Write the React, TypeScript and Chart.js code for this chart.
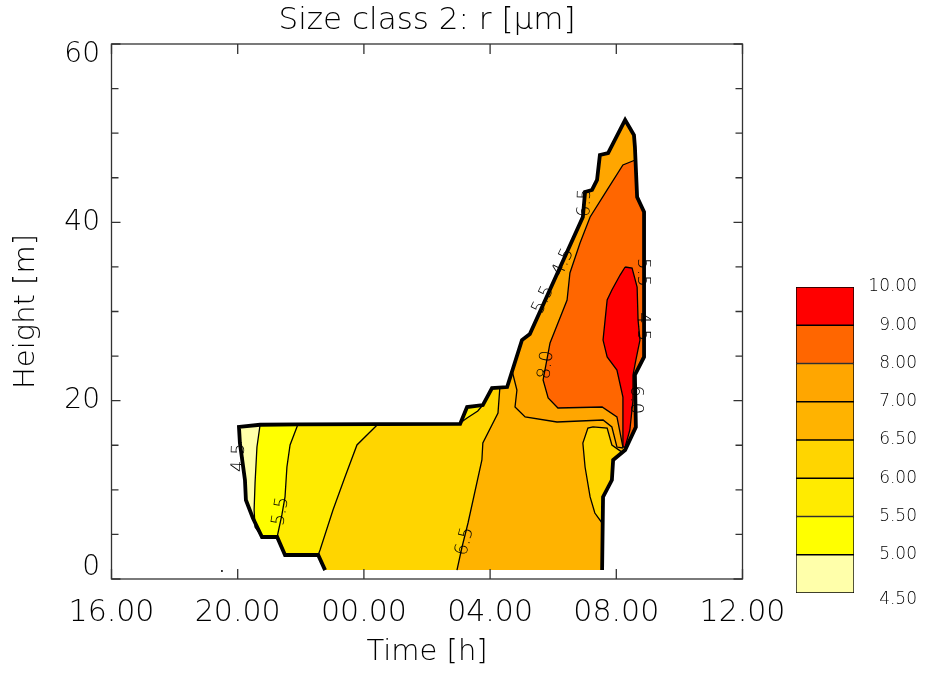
import React, { useEffect, useRef } from 'react';
import { Chart, registerables } from 'chart.js';

Chart.register(...registerables);

const FONT = "'DejaVu Sans', 'Liberation Sans', sans-serif";
const WEIGHT = '200';

const TITLE = 'Size class 2: r [μm]';
const X_TITLE = 'Time [h]';
const Y_TITLE = 'Height [m]';

// x = hours since 00:00 of first day (16 -> 16.00, 36 -> 12.00 next day), y = metres
const X_TICKS = [16, 20, 24, 28, 32, 36];
const X_TICK_LABELS = ['16.00', '20.00', '00.00', '04.00', '08.00', '12.00'];
const Y_TICKS = [0, 20, 40, 60];
const Y_TICK_LABELS = ['0', '20', '40', '60'];
const Y_MINOR_TICKS = [5, 10, 15, 25, 30, 35, 45, 50, 55];

const LEVEL_LABELS = ['4.50', '5.00', '5.50', '6.00', '6.50', '7.00', '8.00', '9.00', '10.00'];
const LEVEL_COLORS = ['#FFFFAA', '#FFFF00', '#FFEB00', '#FFD500', '#FFB300', '#FFA600', '#FF6600', '#FF0000'];

// outer data boundary (thick line), from bottom-left clockwise to bottom-right
const OUTLINE = [
  [22.77, 1.0], [22.55, 2.69], [21.5, 2.69], [21.25, 4.71], [20.77, 4.71], [20.48, 6.84],
  [20.26, 8.86], [20.23, 11.1], [20.07, 15.25], [20.04, 17.05], [20.71, 17.3], [21.91, 17.35],
  [24.45, 17.38], [27.05, 17.4], [27.27, 19.29], [27.77, 19.51], [28.06, 21.42], [28.54, 21.53],
  [29.01, 26.8], [29.26, 27.48], [30.94, 40.6], [31.01, 43.4], [31.23, 43.63], [31.39, 44.75],
  [31.48, 47.55], [31.74, 47.77], [32.28, 51.48], [32.56, 49.79], [32.59, 48.45], [32.66, 42.84],
  [32.88, 41.16], [32.88, 24.9], [32.59, 22.88], [32.62, 17.05], [32.28, 14.47], [31.9, 13.35],
  [31.86, 11.1], [31.58, 9.2], [31.55, 1.0],
];

// contour lines (top to bottom)
const LINE_50 = [[20.71, 17.3], [20.61, 14.8], [20.55, 10.77], [20.52, 7.74], [20.55, 5.83], [20.77, 4.71]];
const LINE_55 = [[21.91, 17.35], [21.66, 15.03], [21.56, 12.56], [21.5, 9.2], [21.4, 7.18], [21.25, 4.71]];
const LINE_60 = [[24.45, 17.38], [23.78, 15.03], [23.4, 11.44], [23.02, 7.74], [22.61, 3.25], [22.55, 2.69]];
const LINE_65 = [[28.31, 21.5], [28.25, 18.6], [27.77, 15.25], [27.74, 13.35], [27.3, 6.28], [27.11, 3.59], [26.95, 1.0]];
const LINE_70 = [[28.7, 23.3], [28.85, 21.2], [28.79, 19.29], [29.11, 18.17], [30.12, 17.61], [31.58, 17.83], [31.86, 17.05], [32.02, 14.8], [32.21, 14.69]];
const LINE_80 = [
  [32.6, 46.99], [32.21, 46.43], [31.71, 43.63], [31.17, 40.6], [30.85, 37.68], [30.53, 34.32],
  [30.44, 31.29], [29.9, 26.47], [29.68, 22.32], [29.84, 20.3], [30.15, 19.18], [31.55, 19.29],
  [32.02, 18.17], [32.21, 14.8],
];
const RED_ZONE = [
  [32.28, 34.99], [32.5, 34.88], [32.66, 32.75], [32.69, 29.05], [32.75, 26.8], [32.62, 24.56],
  [32.53, 22.88], [32.53, 20.07], [32.43, 16.71], [32.28, 14.8], [32.21, 14.8], [32.21, 20.41],
  [32.02, 23.44], [31.71, 24.9], [31.58, 26.8], [31.71, 31.29], [31.86, 32.41], [32.12, 34.09],
];
const RIGHT_60_LINE = [
  [31.55, 6.28], [31.32, 7.4], [31.17, 9.2], [31.01, 12.56], [30.94, 15.25], [31.1, 16.93],
  [31.26, 17.05], [31.71, 16.93], [31.86, 15.03], [32.19, 14.2],
];
const RIGHT_60_EDGE = [[31.9, 13.35], [31.86, 11.1], [31.58, 9.2]];
const NOTCH_55_LINE = [[27.77, 19.51], [27.61, 18.84], [27.27, 18.06], [27.05, 17.5]];
const NOTCH_55_EDGE = [[27.05, 17.4], [27.27, 19.29]];
const STRAY_POINT = [[19.5, 0.9]];

const CONTOUR_LABELS = [
  { text: '4.5', x: 20.04, y: 13.6, angle: -88 },
  { text: '5.5', x: 21.37, y: 7.6, angle: -80 },
  { text: '6.5', x: 27.2, y: 4.2, angle: -75 },
  { text: '8.0', x: 29.78, y: 24.0, angle: -82 },
  { text: '5.5', x: 29.69, y: 31.3, angle: -65 },
  { text: '4.5', x: 30.32, y: 35.5, angle: -65 },
  { text: '6.5', x: 31.01, y: 42.2, angle: -88 },
  { text: '5.5', x: 32.85, y: 34.4, angle: 90 },
  { text: '4.5', x: 32.85, y: 28.3, angle: 90 },
  { text: '6.0', x: 32.62, y: 20.1, angle: 90 },
];

const toPts = (a: number[][]) => a.map(([x, y]) => ({ x, y }));
const seg = (a: number[][], i: number, j: number) => a.slice(i, j + 1);
const rev = (a: number[][]) => [...a].reverse();

const ZONES: { color: string; poly: number[][] }[] = [
  { color: LEVEL_COLORS[4], poly: OUTLINE },
  { color: LEVEL_COLORS[3], poly: [...seg(OUTLINE, 0, 16), ...LINE_65] },
  { color: LEVEL_COLORS[2], poly: [...seg(OUTLINE, 1, 12), ...LINE_60] },
  { color: LEVEL_COLORS[1], poly: [...seg(OUTLINE, 3, 11), ...LINE_55] },
  { color: LEVEL_COLORS[0], poly: [...seg(OUTLINE, 4, 10), ...LINE_50] },
  { color: LEVEL_COLORS[2], poly: [...NOTCH_55_EDGE, ...NOTCH_55_LINE] },
  { color: LEVEL_COLORS[3], poly: [...RIGHT_60_LINE, ...RIGHT_60_EDGE] },
  { color: LEVEL_COLORS[5], poly: [...LINE_70, ...rev(seg(OUTLINE, 18, 34))] },
  { color: LEVEL_COLORS[6], poly: [...LINE_80, ...rev(seg(OUTLINE, 29, 34))] },
  { color: LEVEL_COLORS[7], poly: RED_ZONE },
];

const CONTOURS = [LINE_50, LINE_55, LINE_60, LINE_65, LINE_70, LINE_80, [...RED_ZONE, RED_ZONE[0]], RIGHT_60_LINE, NOTCH_55_LINE];

const decorPlugin = {
  id: 'decor',
  afterDatasetsDraw(chart: any) {
    const { ctx, scales } = chart;
    const xs = scales.x;
    const ys = scales.y;
    ctx.save();
    ctx.fillStyle = '#000';
    ctx.font = `${WEIGHT} 18px ${FONT}`;
    ctx.textAlign = 'center';
    ctx.textBaseline = 'middle';
    for (const l of CONTOUR_LABELS) {
      ctx.save();
      ctx.translate(xs.getPixelForValue(l.x), ys.getPixelForValue(l.y));
      ctx.rotate((l.angle * Math.PI) / 180);
      ctx.fillText(l.text, 0, 0);
      ctx.restore();
    }
    ctx.restore();
  },
  afterDraw(chart: any) {
    const { ctx, chartArea: a, scales } = chart;
    const xs = scales.x;
    const ys = scales.y;
    ctx.save();
    ctx.strokeStyle = '#333';
    ctx.lineWidth = 1.3;
    ctx.strokeRect(a.left, a.top, a.right - a.left, a.bottom - a.top);
    ctx.beginPath();
    for (const v of X_TICKS) {
      const px = xs.getPixelForValue(v);
      ctx.moveTo(px, a.bottom);
      ctx.lineTo(px, a.bottom - 10);
      ctx.moveTo(px, a.top);
      ctx.lineTo(px, a.top + 10);
    }
    for (const v of Y_TICKS) {
      const py = ys.getPixelForValue(v);
      ctx.moveTo(a.left, py);
      ctx.lineTo(a.left + 9, py);
      ctx.moveTo(a.right, py);
      ctx.lineTo(a.right - 9, py);
    }
    for (const v of Y_MINOR_TICKS) {
      const py = ys.getPixelForValue(v);
      ctx.moveTo(a.left, py);
      ctx.lineTo(a.left + 7, py);
      ctx.moveTo(a.right, py);
      ctx.lineTo(a.right - 7, py);
    }
    ctx.stroke();
    ctx.restore();
  },
};

export default function App() {
  const mainRef = useRef<HTMLCanvasElement>(null);
  const barRef = useRef<HTMLCanvasElement>(null);

  useEffect(() => {
    const datasets: any[] = [];
    ZONES.forEach((z) => {
      datasets.push({
        data: toPts(z.poly),
        fill: 'shape',
        backgroundColor: z.color,
        borderColor: 'rgba(0,0,0,0)',
        borderWidth: 1,
        pointRadius: 0,
      });
    });
    CONTOURS.forEach((c) => {
      datasets.push({
        data: toPts(c),
        fill: false,
        borderColor: '#000',
        borderWidth: 1.3,
        pointRadius: 0,
      });
    });
    datasets.push({
      data: toPts(OUTLINE),
      fill: false,
      borderColor: '#000',
      borderWidth: 3.8,
      borderJoinStyle: 'miter',
      pointRadius: 0,
    });
    datasets.push({
      data: toPts(STRAY_POINT),
      showLine: false,
      pointRadius: 1,
      pointBackgroundColor: '#000',
      pointBorderWidth: 0,
    });
    const n = datasets.length;
    datasets.forEach((d, i) => {
      d.order = n - i;
      d.tension = 0;
    });

    const main = new Chart(mainRef.current as HTMLCanvasElement, {
      type: 'line',
      data: { datasets },
      options: {
        responsive: false,
        animation: false,
        events: [],
        layout: { padding: { left: 9, right: 182.5, top: 0, bottom: 3 } },
        plugins: {
          legend: { display: false },
          tooltip: { enabled: false },
          filler: { propagate: false, drawTime: 'beforeDatasetDraw' },
          title: {
            display: true,
            text: TITLE,
            fullSize: false,
            color: '#000',
            font: { family: FONT, size: 31, weight: WEIGHT },
            padding: { top: 2.4, bottom: 4.4 },
          },
        },
        scales: {
          x: {
            type: 'linear',
            min: X_TICKS[0],
            max: X_TICKS[X_TICKS.length - 1],
            afterBuildTicks: (s: any) => {
              s.ticks = X_TICKS.map((v) => ({ value: v }));
            },
            afterFit: (s: any) => {
              s.height = 91;
            },
            ticks: {
              autoSkip: false,
              maxRotation: 0,
              color: '#000',
              padding: 16,
              font: { family: FONT, size: 30, weight: WEIGHT },
              callback: (_v: any, i: number) => X_TICK_LABELS[i],
            },
            grid: { display: false, drawTicks: false },
            border: { display: false },
            title: { display: true, text: X_TITLE, color: '#000', font: { family: FONT, size: 29, weight: WEIGHT }, padding: 0 },
          },
          y: {
            type: 'linear',
            min: Y_TICKS[0],
            max: Y_TICKS[Y_TICKS.length - 1],
            afterBuildTicks: (s: any) => {
              s.ticks = Y_TICKS.map((v) => ({ value: v }));
            },
            afterFit: (s: any) => {
              s.width = 102.5;
            },
            ticks: {
              autoSkip: false,
              color: '#000',
              padding: 11.5,
              font: { family: FONT, size: 28, weight: WEIGHT, lineHeight: 22 / 28 },
              callback: (_v: any, i: number) => {
                const t = Y_TICK_LABELS[i];
                if (i === Y_TICKS.length - 1) return ['', t];
                if (i === 0) return [t, ''];
                return t;
              },
            },
            grid: { display: false, drawTicks: false },
            border: { display: false },
            title: { display: true, text: Y_TITLE, color: '#000', font: { family: FONT, size: 29, weight: WEIGHT }, padding: 0 },
          },
        },
      } as any,
      plugins: [decorPlugin],
    });

    const bar = new Chart(barRef.current as HTMLCanvasElement, {
      type: 'bar',
      data: {
        labels: [''],
        datasets: LEVEL_COLORS.map((c) => ({
          data: [1],
          backgroundColor: c,
          borderColor: '#000',
          borderWidth: 1,
          borderSkipped: false,
          barPercentage: 1,
          categoryPercentage: 1,
        })),
      },
      options: {
        responsive: false,
        animation: false,
        events: [],
        layout: { padding: { left: 10, top: 17, bottom: 17, right: 8 } },
        plugins: { legend: { display: false }, tooltip: { enabled: false } },
        scales: {
          x: { stacked: true, display: false },
          y: {
            stacked: true,
            position: 'right',
            min: 0,
            max: LEVEL_LABELS.length - 1,
            afterBuildTicks: (s: any) => {
              s.ticks = LEVEL_LABELS.map((_l, i) => ({ value: i }));
            },
            afterFit: (s: any) => {
              s.width = 63;
            },
            ticks: {
              crossAlign: 'far',
              padding: 0,
              color: '#000',
              font: { family: FONT, size: 17, weight: WEIGHT, lineHeight: 14 / 17 },
              callback: (_v: any, i: number) => (i === 0 ? ['', LEVEL_LABELS[i]] : LEVEL_LABELS[i]),
            },
            grid: { display: false, drawTicks: false },
            border: { display: false },
          },
        },
      } as any,
    });

    return () => {
      main.destroy();
      bar.destroy();
    };
  }, []);

  return (
    <div style={{ position: 'absolute', left: 0, top: 0, width: 925, height: 673, background: '#fff' }}>
      <canvas ref={mainRef} width={925} height={673} style={{ position: 'absolute', left: 0, top: 0 }} />
      <canvas ref={barRef} width={139} height={340} style={{ position: 'absolute', left: 786, top: 270 }} />
    </div>
  );
}
